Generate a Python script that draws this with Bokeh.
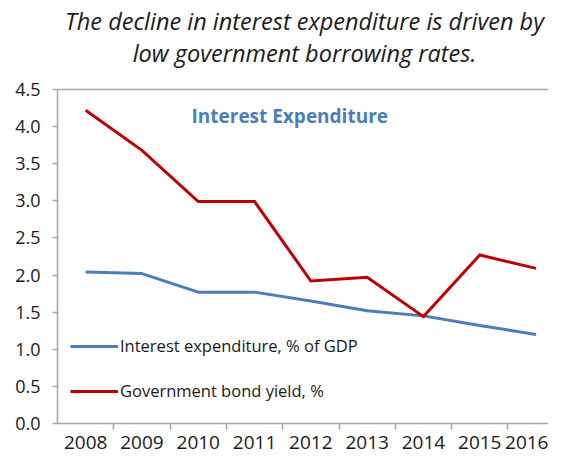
from bokeh.plotting import figure
from bokeh.models import (Range1d, FixedTicker, Legend, LegendItem, Label, Span,
                          NumeralTickFormatter)
from bokeh.embed import file_html
from bokeh.resources import INLINE

# ---- data ----
years = [2008, 2009, 2010, 2011, 2012, 2013, 2014, 2015, 2016]
interest_expenditure = [2.04, 2.02, 1.77, 1.77, 1.65, 1.52, 1.45, 1.32, 1.20]
bond_yield = [4.22, 3.68, 2.99, 2.99, 1.92, 1.97, 1.44, 2.27, 2.09]
y_ticks = [0.0, 0.5, 1.0, 1.5, 2.0, 2.5, 3.0, 3.5, 4.0, 4.5]
title_lines = ["The decline in interest expenditure is driven by",
               "low government borrowing rates."]
annotation_text = "Interest Expenditure"
series_labels = ["Interest expenditure, % of GDP", "Government bond yield, %"]

BLUE = "#4a7ebb"
RED = "#c00000"
GRAY = "#a6a6a6"
TXT = "#1a1a1a"
FONT = "Open Sans"

W, H = 548, 457
LEFT, BOTTOM = 57, 34
PLOT_TOP = 89            # pixel row of the 4.5 gridline / top border
cat_w = 56.3
x_start = years[0] - 0.5
x_end = x_start + (W - LEFT) / cat_w
y_lo, y_hi = y_ticks[0], y_ticks[-1]
px_per_unit = (H - BOTTOM - PLOT_TOP) / (y_hi - y_lo)
y_end = y_hi + PLOT_TOP / px_per_unit   # frame reaches the top of the canvas


def data_x(px):
    return x_start + (px - LEFT) / cat_w


def data_y(py):
    return y_hi - (py - PLOT_TOP) / px_per_unit


p = figure(width=W, height=H, output_backend="svg", toolbar_location=None,
           x_range=Range1d(x_start, x_end), y_range=Range1d(y_lo, y_end),
           min_border_left=LEFT, min_border_right=0, min_border_top=0,
           min_border_bottom=BOTTOM, title=None)

p.xgrid.visible = False
p.ygrid.visible = False
p.outline_line_color = None
p.background_fill_color = "white"
p.border_fill_color = "white"

# top border of the plot area
p.add_layout(Span(location=y_hi, dimension="width", line_color=GRAY, line_width=1.5))

# x axis
p.xaxis.ticker = FixedTicker(ticks=years, minor_ticks=[y + 0.5 for y in years[:-1]])
p.xaxis.major_tick_line_color = None
p.xaxis.major_tick_out = 0
p.xaxis.major_tick_in = 0
p.xaxis.minor_tick_line_color = GRAY
p.xaxis.minor_tick_line_width = 1.5
p.xaxis.minor_tick_out = 6
p.xaxis.minor_tick_in = 0
p.xaxis.axis_line_color = GRAY
p.xaxis.axis_line_width = 1.5
p.xaxis.major_label_standoff = 6
p.xaxis.major_label_text_font = FONT
p.xaxis.major_label_text_font_size = "19px"
p.xaxis.major_label_text_color = TXT

# y axis
p.yaxis.ticker = FixedTicker(ticks=y_ticks, minor_ticks=[])
p.yaxis.bounds = (y_lo, y_hi)
p.yaxis.formatter = NumeralTickFormatter(format="0.0")
p.yaxis.major_tick_line_color = GRAY
p.yaxis.major_tick_line_width = 1.5
p.yaxis.major_tick_out = 5
p.yaxis.major_tick_in = 0
p.yaxis.axis_line_color = GRAY
p.yaxis.axis_line_width = 1.5
p.yaxis.major_label_standoff = 12
p.yaxis.major_label_text_font = FONT
p.yaxis.major_label_text_font_size = "18px"
p.yaxis.major_label_text_color = TXT

r_blue = p.line(years, interest_expenditure, line_color=BLUE, line_width=3,
                line_join="round")
r_red = p.line(years, bond_yield, line_color=RED, line_width=3, line_join="miter")

legend = Legend(items=[LegendItem(label=series_labels[0], renderers=[r_blue]),
                       LegendItem(label=series_labels[1], renderers=[r_red])],
                location=(13, 21), orientation="vertical",
                glyph_width=48, glyph_height=20, label_height=20, spacing=22,
                padding=0, margin=0, label_standoff=2,
                border_line_color=None, background_fill_alpha=0,
                label_text_font=FONT, label_text_font_size="16.5px",
                label_text_color=TXT)
p.add_layout(legend, "center")

# two-line title, centred over the plot area
for line, py in zip(title_lines, [20, 52]):
    p.add_layout(Label(x=data_x(304), y=data_y(py), text=line,
                       text_font=FONT, text_font_style="italic",
                       text_font_size="23.5px", text_color=TXT,
                       text_align="center", text_baseline="middle"))

ann = Label(x=data_x(191), y=data_y(115), text=annotation_text,
            text_font=FONT, text_font_style="bold", text_font_size="19px",
            text_color=BLUE, text_baseline="middle", text_align="left")
p.add_layout(ann)

open("out.html", "w").write(file_html(p, INLINE))
